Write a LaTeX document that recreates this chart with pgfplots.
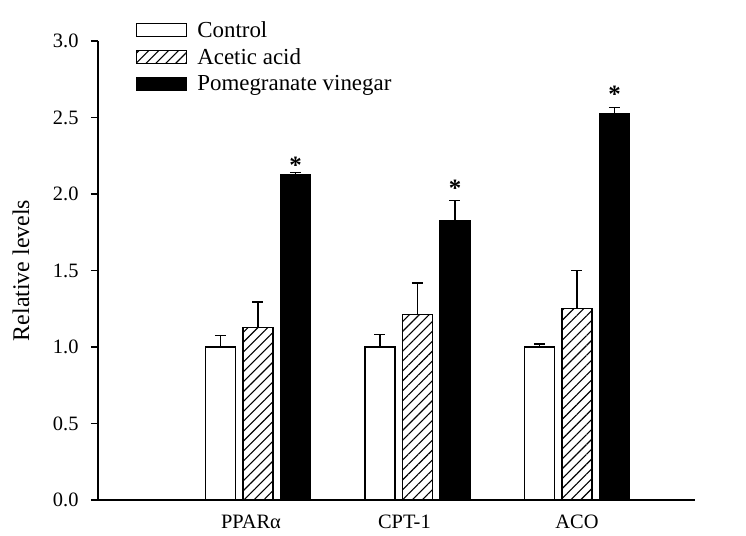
\documentclass[border=0pt]{standalone}
\usepackage{fontspec}
\setmainfont{Liberation Serif}
\usepackage{pgfplots}
\pgfplotsset{compat=1.18}
\usetikzlibrary{patterns.meta}
\begin{document}
\begin{tikzpicture}
\begin{axis}[
  width=597bp, height=459bp, scale only axis,
  ybar, bar width=30bp,
  xmin=-1.003, xmax=2.74, ymin=0, ymax=3,
  axis x line=bottom, axis y line=left,
  axis line style={-, line width=1.3bp, black},
  xtick={-0.044,0.918,2}, xticklabels={PPARα, CPT-1, ACO},
  x tick style={draw=none},
  xticklabel style={yshift=-4bp},
  ytick={0,0.5,1,1.5,2,2.5,3},
  y tick style={line width=1.3bp, black},
  tick align=outside, major tick length=7bp,
  minor tick num=0,
  /pgf/number format/assume math mode=true,
  /pgf/number format/fixed, /pgf/number format/fixed zerofill, /pgf/number format/precision=1,
  yticklabel style={xshift=-9bp},
  tick label style={font=\fontsize{20.5}{23}\selectfont},
  ylabel={Relative levels},
  ylabel style={font=\fontsize{24}{27}\selectfont, at={(axis description cs:-0.1089,0.5)}, anchor=south},
  legend style={at={(axis description cs:0.0637,1.047)}, anchor=north west, draw=none, fill=none,
    font=\fontsize{23}{26}\selectfont, row sep=5.5bp, inner sep=0pt,
    /tikz/every odd column/.append style={column sep=8bp}},
  legend cell align=left,
  error bars/y dir=plus, error bars/y explicit,
  error bars/error bar style={line width=1.2bp, black},
  error bars/error mark options={rotate=90, line width=1.2bp, mark size=5.5bp, black},
]
\coordinate (O) at (rel axis cs:0,0);
\addplot[bar shift=-37.5bp, draw=black, fill=white, line width=1.2bp,
  legend image code/.code={\draw[draw=black, fill=white, line width=1.1bp] (0bp,-6.6bp) rectangle (50bp,6.6bp);}]
  coordinates {(0,1.00) +- (0,0.075) (1,1.00) +- (0,0.08) (2,1.00) +- (0,0.02)};
\addlegendentry{Control}
\addplot[bar shift=0bp, draw=black, line width=1.2bp,
  pattern={Lines[angle=45, distance=7bp, line width=1.1bp]}, pattern color=black,
  legend image code/.code={\draw[draw=black, line width=1.1bp, pattern={Lines[angle=45, distance=7bp, line width=1.1bp]}, pattern color=black] (0bp,-6.6bp) rectangle (50bp,6.6bp);}]
  coordinates {(0,1.126) +- (0,0.168) (1,1.211) +- (0,0.207) (2,1.253) +- (0,0.247)};
\addlegendentry{Acetic acid}
\addplot[bar shift=37.5bp, draw=black, fill=black, line width=1.2bp,
  legend image code/.code={\draw[draw=black, fill=black, line width=1.1bp] (0bp,-6.6bp) rectangle (50bp,6.6bp);}]
  coordinates {(0,2.124) +- (0,0.018) (1,1.824) +- (0,0.132) (2,2.525) +- (0,0.042)};
\addlegendentry{Pomegranate vinegar}
\addplot[bar shift=37.5bp, draw=none, fill=none, forget plot,
  error bars/y dir=none,
  nodes near coords={\textbf{*}},
  every node near coord/.style={anchor=center, xshift=37.5bp, font=\fontsize{25}{25}\selectfont\bfseries}]
  coordinates {(0,2.19) (1,2.04) (2,2.65)};
\end{axis}
\pgfresetboundingbox
\path (O) ++(-98bp,-36bp) rectangle ++(746bp,536bp);
\end{tikzpicture}
\end{document}
